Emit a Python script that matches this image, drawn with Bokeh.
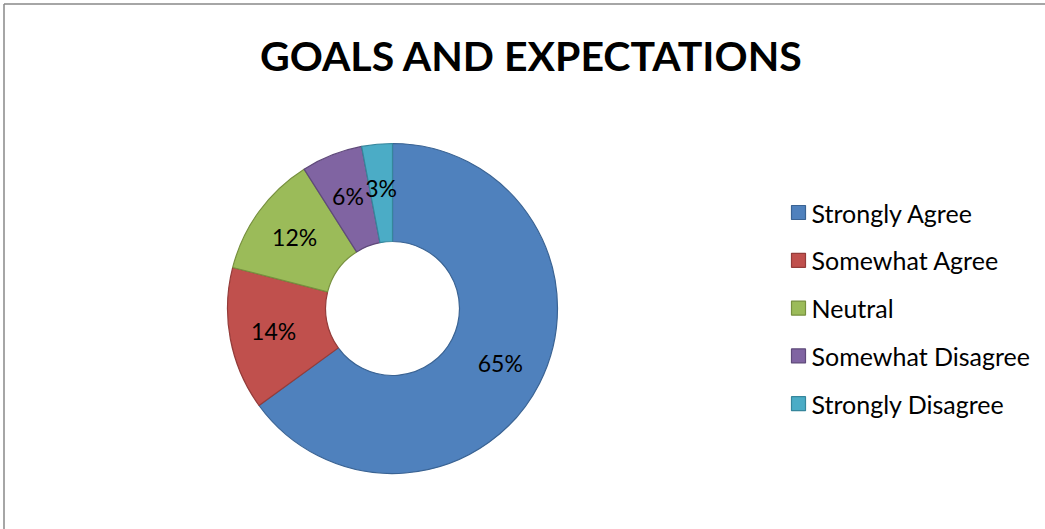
from bokeh.plotting import figure
from bokeh.models import Range1d, ColumnDataSource
from bokeh.core.properties import value
from bokeh.embed import file_html
from bokeh.resources import INLINE
import numpy as np

title = "GOALS AND EXPECTATIONS"
categories = ["Strongly Agree", "Somewhat Agree", "Neutral", "Somewhat Disagree", "Strongly Disagree"]
percents = [65, 14, 12, 6, 3]
fill_colors = ["#4F81BD", "#C0504D", "#9BBB59", "#8064A2", "#4BACC6"]
line_colors = ["#3A6393", "#943C3A", "#77903F", "#5F4A7A", "#36869C"]

W, H = 1045, 529
p = figure(width=W, height=H, x_range=Range1d(0, W), y_range=Range1d(0, H),
           x_axis_type=None, y_axis_type=None, toolbar_location=None,
           output_backend="svg", min_border=0)
p.outline_line_color = None
p.grid.visible = False
p.background_fill_color = "white"
p.border_fill_color = "white"

def Y(py):
    return H - py

# frame
p.segment(x0=[3.5, 3.5], y0=[Y(3.5), Y(3.5)], x1=[3.5, W + 10], y1=[Y(H + 10), Y(3.5)],
          line_color="#888888", line_width=1.5)

# title
p.text(x=[531], y=[Y(55)], text=[title], text_font=value("Lato"), text_font_style="bold",
       text_font_size="41px", text_align="center", text_baseline="middle", text_color="black")

# donut
cx, cy = 392, Y(308)
r_out, r_in = 165, 67
vals = np.array(percents, dtype=float)
frac = vals / vals.sum()
cum = np.concatenate([[0], np.cumsum(frac)])
start = np.pi / 2 - cum[:-1] * 2 * np.pi
end = np.pi / 2 - cum[1:] * 2 * np.pi
src = ColumnDataSource(dict(start=start, end=end, fill=fill_colors, line=line_colors))
p.annular_wedge(x=cx, y=cy, inner_radius=r_in, outer_radius=r_out,
                start_angle="start", end_angle="end", direction="clock",
                fill_color="fill", line_color="line", line_width=1.2, source=src)

mid = (start + end) / 2
r_lab = 121
lab_src = ColumnDataSource(dict(x=cx + r_lab * np.cos(mid), y=cy + r_lab * np.sin(mid),
                                t=[f"{v}%" for v in percents]))
p.text(x="x", y="y", text="t", source=lab_src, text_font=value("Lato"),
       text_font_size="23px", text_align="center", text_baseline="middle", text_color="black")

# legend
ly = [Y(212 + 47.8 * i) for i in range(len(categories))]
leg_src = ColumnDataSource(dict(x=[798] * len(categories), y=ly, fill=fill_colors,
                                line=line_colors, t=categories, tx=[811] * len(categories)))
p.scatter(x="x", y="y", marker="square", size=14, fill_color="fill", line_color="line",
          line_width=1.2, source=leg_src)
p.text(x="tx", y="y", text="t", source=leg_src, text_font=value("Lato"),
       text_font_size="25px", text_align="left", text_baseline="middle", text_color="black")

open("out.html", "w").write(file_html(p, INLINE))
